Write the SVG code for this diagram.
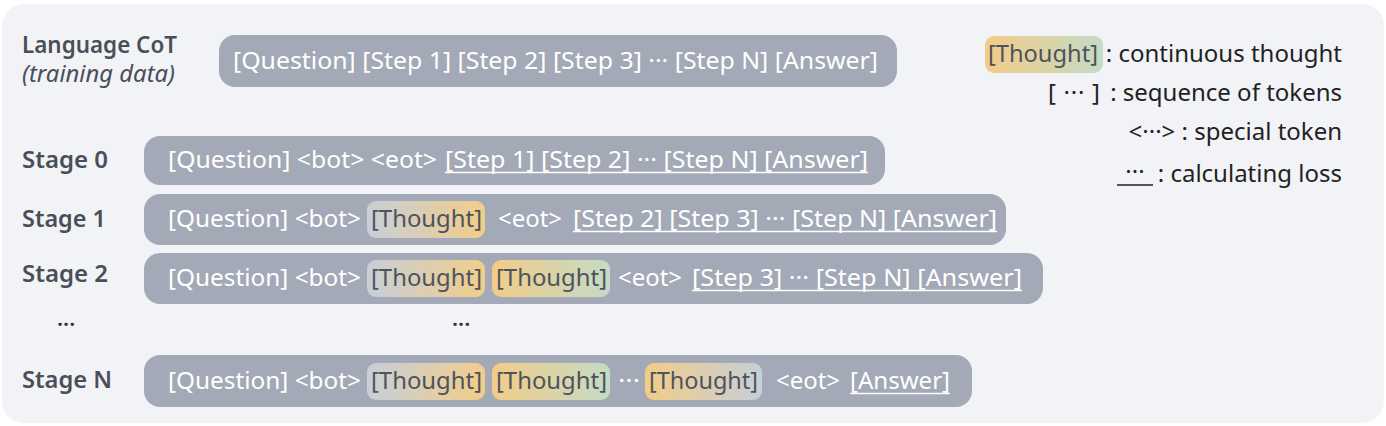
<svg xmlns="http://www.w3.org/2000/svg" width="1386" height="426" viewBox="0 0 1386 426">
  <style>
    .lbl { font-family: "Noto Sans", "Open Sans", sans-serif; font-size: 23.5px; font-weight: 600; fill: #4a4e57; }
    .sub { font-family: "Noto Sans", "Open Sans", sans-serif; font-size: 23.5px; font-style: italic; fill: #4a4e57; }
    .tok { font-family: "Noto Sans", "Open Sans", sans-serif; font-size: 23.5px; fill: #ffffff; }
    .th { font-family: "Noto Sans", "Open Sans", sans-serif; font-size: 23.5px; fill: #4e535c; }
    .leg { font-family: "Noto Sans", "Open Sans", sans-serif; font-size: 24px; fill: #222222; }
    .row { fill: #a3a9b6; }
    .ul { stroke: #ffffff; stroke-width: 1.5; }
    .dots { font-family: "Noto Sans", "Open Sans", sans-serif; font-size: 22px; font-weight: 600; fill: #333333; }
  </style>
  <defs>
    <linearGradient id="gBO" x1="0" y1="0" x2="1" y2="0">
      <stop offset="0" stop-color="#c7cfd9"/>
      <stop offset="1" stop-color="#f2cd88"/>
    </linearGradient>
    <linearGradient id="gOG" x1="0" y1="0" x2="1" y2="0">
      <stop offset="0" stop-color="#f2cc88"/>
      <stop offset="1" stop-color="#c4dbc5"/>
    </linearGradient>
    <linearGradient id="gOB" x1="0" y1="0" x2="1" y2="0">
      <stop offset="0" stop-color="#f2cc88"/>
      <stop offset="1" stop-color="#c7cfd9"/>
    </linearGradient>
  </defs>

  <rect x="2" y="4" width="1382" height="419" rx="22" fill="#f2f3f7"/>

  <g id="language-cot">
    <text class="lbl" x="22" y="53" textLength="155" lengthAdjust="spacingAndGlyphs">Language CoT</text>
    <text class="sub" x="22" y="82" textLength="153" lengthAdjust="spacingAndGlyphs">(training data)</text>
    <rect class="row" x="219" y="35" width="678" height="52" rx="16"/>
    <text class="tok" x="233" y="69" textLength="645" lengthAdjust="spacingAndGlyphs">[Question] [Step 1] [Step 2] [Step 3] ··· [Step N] [Answer]</text>
  </g>

  <g id="legend">
    <rect x="985" y="36" width="118" height="37" rx="9" fill="url(#gOG)"/>
    <text class="th" x="988" y="62" textLength="110" lengthAdjust="spacingAndGlyphs">[Thought]</text>
    <text class="leg" x="1342" y="62" text-anchor="end">: continuous thought</text>
    <text class="leg" x="1342" y="101" text-anchor="end">: sequence of tokens</text>
    <text class="leg" x="1048" y="101" textLength="52" lengthAdjust="spacing">[ ··· ]</text>
    <text class="leg" x="1342" y="140" text-anchor="end">&lt;···&gt; : special token</text>
    <text class="leg" x="1342" y="182" text-anchor="end">: calculating loss</text>
    <text class="leg" x="1135" y="180" text-anchor="middle">···</text>
    <line x1="1117" y1="185" x2="1153" y2="185" stroke="#222222" stroke-width="1.5"/>
  </g>

  <g id="stage-0">
    <text class="lbl" x="22" y="168" textLength="86" lengthAdjust="spacingAndGlyphs">Stage 0</text>
    <rect class="row" x="144" y="136" width="741" height="49" rx="16"/>
    <text class="tok" x="168" y="168" textLength="269" lengthAdjust="spacingAndGlyphs">[Question] &lt;bot&gt; &lt;eot&gt;</text>
    <text class="tok" x="445" y="168" textLength="423" lengthAdjust="spacingAndGlyphs">[Step 1] [Step 2] ··· [Step N] [Answer]</text>
    <line class="ul" x1="445" y1="172.5" x2="868" y2="172.5"/>
  </g>

  <g id="stage-1">
    <text class="lbl" x="22" y="227" textLength="84" lengthAdjust="spacingAndGlyphs">Stage 1</text>
    <rect class="row" x="144" y="194" width="862" height="51" rx="16"/>
    <text class="tok" x="168" y="227" textLength="193" lengthAdjust="spacingAndGlyphs">[Question] &lt;bot&gt;</text>
    <rect x="367" y="201" width="118" height="37" rx="9" fill="url(#gBO)"/>
    <text class="th" x="371" y="227" textLength="111" lengthAdjust="spacingAndGlyphs">[Thought]</text>
    <text class="tok" x="498" y="227" textLength="64" lengthAdjust="spacingAndGlyphs">&lt;eot&gt;</text>
    <text class="tok" x="573" y="227" textLength="424" lengthAdjust="spacingAndGlyphs">[Step 2] [Step 3] ··· [Step N] [Answer]</text>
    <line class="ul" x1="573" y1="231.5" x2="997" y2="231.5"/>
  </g>

  <g id="stage-2">
    <text class="lbl" x="22" y="282" textLength="86" lengthAdjust="spacingAndGlyphs">Stage 2</text>
    <rect class="row" x="144" y="253" width="899" height="51" rx="16"/>
    <text class="tok" x="168" y="286" textLength="193" lengthAdjust="spacingAndGlyphs">[Question] &lt;bot&gt;</text>
    <rect x="367" y="260" width="118" height="37" rx="9" fill="url(#gBO)"/>
    <text class="th" x="371" y="286" textLength="111" lengthAdjust="spacingAndGlyphs">[Thought]</text>
    <rect x="492" y="260" width="118" height="37" rx="9" fill="url(#gOG)"/>
    <text class="th" x="496" y="286" textLength="111" lengthAdjust="spacingAndGlyphs">[Thought]</text>
    <text class="tok" x="618" y="286" textLength="64" lengthAdjust="spacingAndGlyphs">&lt;eot&gt;</text>
    <text class="tok" x="692" y="286" textLength="330" lengthAdjust="spacingAndGlyphs">[Step 3] ··· [Step N] [Answer]</text>
    <line class="ul" x1="692" y1="290.5" x2="1022" y2="290.5"/>
  </g>

  <g id="ellipsis">
    <text class="dots" x="57" y="326">...</text>
    <text class="dots" x="452" y="326">...</text>
  </g>

  <g id="stage-n">
    <text class="lbl" x="22" y="388" textLength="90" lengthAdjust="spacingAndGlyphs">Stage N</text>
    <rect class="row" x="144" y="355" width="828" height="52" rx="16"/>
    <text class="tok" x="168" y="389" textLength="193" lengthAdjust="spacingAndGlyphs">[Question] &lt;bot&gt;</text>
    <rect x="367" y="363" width="118" height="37" rx="9" fill="url(#gBO)"/>
    <text class="th" x="371" y="389" textLength="111" lengthAdjust="spacingAndGlyphs">[Thought]</text>
    <rect x="492" y="363" width="118" height="37" rx="9" fill="url(#gOG)"/>
    <text class="th" x="496" y="389" textLength="111" lengthAdjust="spacingAndGlyphs">[Thought]</text>
    <text class="tok" x="618" y="389" textLength="22" lengthAdjust="spacingAndGlyphs">···</text>
    <rect x="645" y="363" width="117" height="37" rx="9" fill="url(#gOB)"/>
    <text class="th" x="649" y="389" textLength="109" lengthAdjust="spacingAndGlyphs">[Thought]</text>
    <text class="tok" x="776" y="389" textLength="64" lengthAdjust="spacingAndGlyphs">&lt;eot&gt;</text>
    <text class="tok" x="850" y="389" textLength="100" lengthAdjust="spacingAndGlyphs">[Answer]</text>
    <line class="ul" x1="850" y1="393.5" x2="950" y2="393.5"/>
  </g>
</svg>
